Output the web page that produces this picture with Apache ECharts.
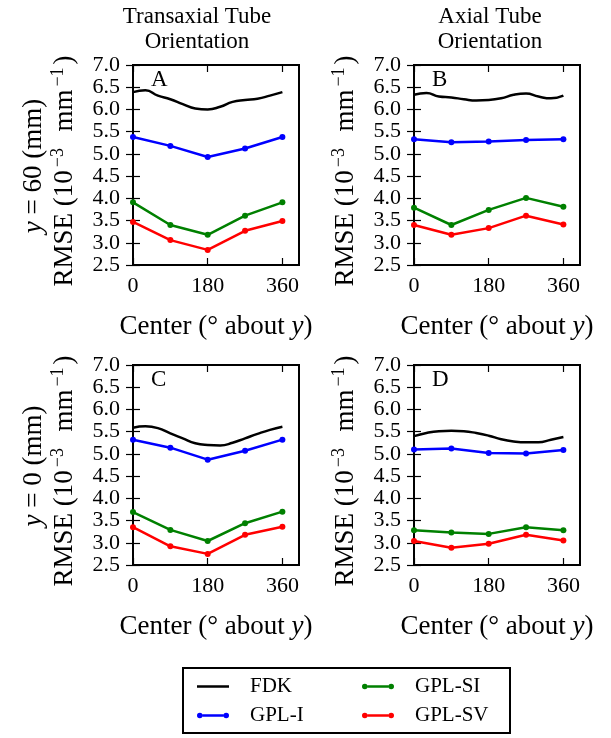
<!DOCTYPE html>
<html><head><meta charset="utf-8">
<script src="https://cdn.jsdelivr.net/npm/echarts@6/dist/echarts.min.js"></script>
<style>html,body{margin:0;padding:0;background:#fff}#c{width:611px;height:738px}</style>
</head><body><div id="c"></div>
<script>
// ---------- data ----------
const panelLabels = ['A', 'B', 'C', 'D'];
const columnTitles = ['Transaxial Tube\nOrientation', 'Axial Tube\nOrientation'];
const rowValues = ['60', '0'];
const seriesNames = ['FDK', 'GPL-I', 'GPL-SI', 'GPL-SV'];
const markerAngles = [0, 90, 180, 270, 360];
const fdkAngles = [0, 30, 60, 90, 120, 150, 180, 210, 240, 270, 300, 330, 360];
const xTicks = [0, 180, 360];

const fdkA   = [6.39, 6.43, 6.31, 6.23, 6.12, 6.02, 6.00, 6.06, 6.17, 6.21, 6.24, 6.31, 6.39];
const gplIA  = [5.38, 5.18, 4.93, 5.12, 5.38];
const gplSIA = [3.91, 3.40, 3.18, 3.61, 3.91];
const gplSVA = [3.47, 3.06, 2.84, 3.27, 3.49];

const fdkB   = [6.33, 6.37, 6.29, 6.27, 6.23, 6.20, 6.21, 6.25, 6.33, 6.36, 6.29, 6.25, 6.31];
const gplIB  = [5.33, 5.26, 5.28, 5.31, 5.33];
const gplSIB = [3.79, 3.40, 3.74, 4.01, 3.81];
const gplSVB = [3.40, 3.18, 3.33, 3.61, 3.41];

const fdkC   = [5.59, 5.62, 5.58, 5.46, 5.35, 5.24, 5.20, 5.19, 5.25, 5.35, 5.45, 5.54, 5.61];
const gplIC  = [5.32, 5.14, 4.87, 5.07, 5.32];
const gplSIC = [3.69, 3.29, 3.04, 3.44, 3.70];
const gplSVC = [3.35, 2.92, 2.75, 3.18, 3.36];

const fdkD   = [5.40, 5.47, 5.51, 5.52, 5.51, 5.47, 5.41, 5.33, 5.28, 5.26, 5.26, 5.32, 5.38];
const gplID  = [5.10, 5.12, 5.02, 5.01, 5.09];
const gplSID = [3.28, 3.23, 3.20, 3.35, 3.28];
const gplSVD = [3.04, 2.89, 2.98, 3.18, 3.05];

// ---------- layout / style ----------
const FONT = 'Liberation Serif';
const COLORS = ['#000000', '#0000ff', '#008000', '#ff0000'];
const panels = [
  { left: 133, top: 65, fdk: fdkA, i: gplIA, si: gplSIA, sv: gplSVA },
  { left: 414, top: 65, fdk: fdkB, i: gplIB, si: gplSIB, sv: gplSVB },
  { left: 133, top: 365, fdk: fdkC, i: gplIC, si: gplSIC, sv: gplSVC },
  { left: 414, top: 365, fdk: fdkD, i: gplID, si: gplSID, sv: gplSVD }
];
const PW = 166, PH = 200;
const zip = (xs, ys) => xs.map((x, k) => [x, ys[k]]);

const grid = [], xAxis = [], yAxis = [], series = [], graphic = [];
const tickStyle = { color: '#000', width: 1.2 };

panels.forEach((p, n) => {
  grid.push({ left: p.left, top: p.top, width: PW, height: PH, show: true,
    borderColor: '#000', borderWidth: 2, backgroundColor: 'transparent' });
  xAxis.push({
    gridIndex: n, type: 'value', min: 0, max: 400, position: 'bottom',
    axisLine: { show: true, onZero: false, lineStyle: { color: '#000', width: 2 } },
    axisTick: { inside: true, length: 7, customValues: xTicks, lineStyle: tickStyle },
    axisLabel: { customValues: xTicks, fontSize: 22, fontFamily: FONT, color: '#000', margin: 10 },
    splitLine: { show: false },
    name: 'Center (° about {i|y})', nameLocation: 'middle', nameGap: 48,
    nameTextStyle: { fontSize: 27, fontFamily: FONT, color: '#000',
      rich: { i: { fontSize: 27, fontFamily: FONT, fontStyle: 'italic', color: '#000' } } }
  });
  xAxis.push({
    gridIndex: n, type: 'value', min: 0, max: 400, position: 'top',
    axisLine: { show: false },
    axisTick: { inside: true, length: 7, customValues: xTicks, lineStyle: tickStyle },
    axisLabel: { show: false }, splitLine: { show: false }
  });
  yAxis.push({
    gridIndex: n, type: 'value', min: 2.5, max: 7.0, interval: 0.5, position: 'left',
    axisLine: { show: true, onZero: false, lineStyle: { color: '#000', width: 2 } },
    axisTick: { inside: true, length: 7, lineStyle: tickStyle },
    axisLabel: { fontSize: 22, fontFamily: FONT, color: '#000', margin: 13,
      formatter: v => v.toFixed(1) },
    splitLine: { show: false }
  });
  yAxis.push({
    gridIndex: n, type: 'value', min: 2.5, max: 7.0, interval: 0.5, position: 'right',
    axisLine: { show: false },
    axisTick: { inside: true, length: 7, lineStyle: tickStyle },
    axisLabel: { show: false }, splitLine: { show: false }
  });
  const xi = 2 * n, yi = 2 * n;
  series.push({ type: 'line', name: seriesNames[0], xAxisIndex: xi, yAxisIndex: yi,
    data: zip(fdkAngles, p.fdk), smooth: 0.5, symbol: 'none',
    lineStyle: { color: COLORS[0], width: 2.5 }, itemStyle: { color: COLORS[0] } });
  [p.i, p.si, p.sv].forEach((vals, k) => {
    series.push({ type: 'line', name: seriesNames[k + 1], xAxisIndex: xi, yAxisIndex: yi,
      data: zip(markerAngles, vals), symbol: 'circle', symbolSize: 6, showSymbol: true,
      lineStyle: { color: COLORS[k + 1], width: 2.5 }, itemStyle: { color: COLORS[k + 1] } });
  });
  // panel letter
  graphic.push({ type: 'text', left: p.left + 18, top: p.top + 3, silent: true,
    style: { text: panelLabels[n], font: '23px "' + FONT + '"', fill: '#000' } });
  // RMSE label
  graphic.push({ type: 'text', x: p.left - 69, y: p.top + PH / 2 + 6, rotation: Math.PI / 2, silent: true,
    style: { text: '{n|RMSE (10}{s|−3}{n|  mm}{s|−1}{n|)}', align: 'center', verticalAlign: 'middle',
      fill: '#000',
      rich: { n: { fontSize: 27, fontFamily: FONT, lineHeight: 29, verticalAlign: 'bottom', fill: '#000' },
              s: { fontSize: 18, fontFamily: FONT, lineHeight: 29, verticalAlign: 'top', fill: '#000', padding: [0, 3, 0, 3] } } } });
});

// row labels
[0, 1].forEach(r => {
  graphic.push({ type: 'text', x: 34, y: panels[2 * r].top + PH / 2 + 1, rotation: Math.PI / 2, silent: true,
    style: { text: '{i|y} = ' + rowValues[r] + ' (mm)', align: 'center', verticalAlign: 'middle', fill: '#000',
      font: '27px "' + FONT + '"',
      rich: { i: { fontSize: 27, fontFamily: FONT, fontStyle: 'italic', fill: '#000' } } } });
});
// column titles
const titleX = [197, 490];
[0, 1].forEach(c => {
  graphic.push({ type: 'text', x: titleX[c], y: 4, silent: true,
    style: { text: columnTitles[c], align: 'center', verticalAlign: 'top', fill: '#000',
      font: '23px "' + FONT + '"', lineHeight: 25 } });
});
// legend frame
graphic.push({ type: 'rect', silent: true, shape: { x: 183, y: 668, width: 327, height: 65 },
  style: { fill: 'none', stroke: '#000', lineWidth: 2 } });

const lineIcon = 'path://M0,0L0,0Z M0,6L0,6Z M0,1.75L32,1.75L32,4.25L0,4.25Z';
const dotIcon = 'path://M0,0L0,0Z M0,6L0,6Z M0,3A2.8,2.8 0 1,0 5.6,3A2.8,2.8 0 1,0 0,3Z M26.4,3A2.8,2.8 0 1,0 32,3A2.8,2.8 0 1,0 26.4,3Z M5.6,1.75L26.4,1.75L26.4,4.25L5.6,4.25Z';
const legendBase = { orient: 'vertical', top: 676, itemWidth: 32, itemHeight: 6, itemGap: 8,
  selectedMode: false, padding: 0,
  textStyle: { fontSize: 21, fontFamily: FONT, color: '#000', padding: [0, 0, 0, 16] } };

const option = {
  animation: false,
  backgroundColor: '#fff',
  grid, xAxis, yAxis, series, graphic,
  legend: [
    Object.assign({}, legendBase, { left: 197, data: [{ name: 'FDK', icon: lineIcon }, { name: 'GPL-I', icon: dotIcon }] }),
    Object.assign({}, legendBase, { left: 362, data: [{ name: 'GPL-SI', icon: dotIcon }, { name: 'GPL-SV', icon: dotIcon }] })
  ]
};
const chart = echarts.init(document.getElementById('c'), null, { renderer: 'canvas' });
chart.setOption(option);
</script></body></html>
